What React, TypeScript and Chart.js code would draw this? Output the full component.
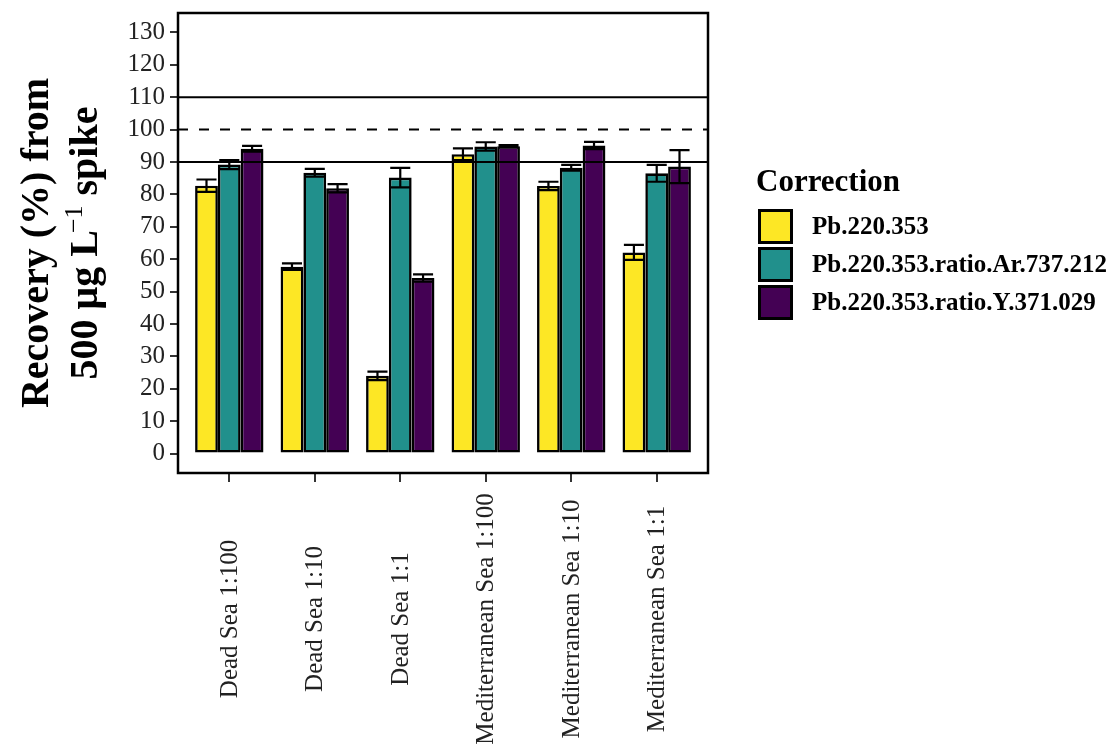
import React, { useEffect, useRef } from "react";
import { Chart, registerables } from "chart.js";

Chart.register(...registerables);

// Sample / dilution groups on the x axis
const categories = [
  "Dead Sea 1:100",
  "Dead Sea 1:10",
  "Dead Sea 1:1",
  "Mediterranean Sea 1:100",
  "Mediterranean Sea 1:10",
  "Mediterranean Sea 1:1",
];

// Correction methods (legend entries)
const seriesNames = [
  "Pb.220.353",
  "Pb.220.353.ratio.Ar.737.212",
  "Pb.220.353.ratio.Y.371.029",
];
const seriesColors = ["#FDE725", "#21908C", "#440154"];

// Mean recovery (%) and standard deviation for each correction
const pbValues = [82.7, 57.7, 24.0, 92.4, 82.6, 62.1];
const pbErrors = [1.9, 1.0, 1.3, 1.8, 1.3, 2.3];
const arValues = [89.2, 86.7, 85.2, 94.8, 88.2, 86.5];
const arErrors = [1.4, 1.2, 3.0, 1.3, 0.9, 2.6];
const yValues = [94.1, 81.9, 54.2, 94.9, 95.1, 88.6];
const yErrors = [0.9, 1.3, 1.1, 0.3, 1.1, 5.1];

const seriesValues = [pbValues, arValues, yValues];
const seriesErrors = [pbErrors, arErrors, yErrors];

// Y axis tick labels and acceptance limits
const yTicks = [0, 10, 20, 30, 40, 50, 60, 70, 80, 90, 100, 110, 120, 130];
const solidLimits = [90, 110];
const dashedTarget = [100];

const W = 1119;
const H = 746;
const SERIF = '"Liberation Serif", "DejaVu Serif", "Times New Roman", serif';

const overlayPlugin = {
  id: "recoveryOverlay",
  afterDatasetsDraw(chart: any) {
    const { ctx, chartArea: a, scales } = chart;
    const y = scales.y;
    ctx.save();
    ctx.strokeStyle = "#000";
    ctx.lineWidth = 2;

    // acceptance limits and target line
    ctx.setLineDash([]);
    for (const v of solidLimits) {
      const py = y.getPixelForValue(v);
      ctx.beginPath();
      ctx.moveTo(a.left, py);
      ctx.lineTo(a.right, py);
      ctx.stroke();
    }
    ctx.setLineDash([10, 11]);
    for (const v of dashedTarget) {
      const py = y.getPixelForValue(v);
      ctx.beginPath();
      ctx.moveTo(a.left, py);
      ctx.lineTo(a.right, py);
      ctx.stroke();
    }
    ctx.setLineDash([]);

    // error bars (mean ± sd)
    ctx.lineWidth = 2.2;
    chart.data.datasets.forEach((_ds: any, di: number) => {
      const meta = chart.getDatasetMeta(di);
      meta.data.forEach((el: any, i: number) => {
        const { x: bx, width } = el.getProps(["x", "width"], true);
        const v = seriesValues[di][i];
        const e = seriesErrors[di][i];
        const yt = y.getPixelForValue(v + e);
        const yb = y.getPixelForValue(v - e);
        const h = width * 0.44;
        ctx.beginPath();
        ctx.moveTo(bx, yt);
        ctx.lineTo(bx, yb);
        ctx.moveTo(bx - h, yt);
        ctx.lineTo(bx + h, yt);
        ctx.moveTo(bx - h, yb);
        ctx.lineTo(bx + h, yb);
        ctx.stroke();
      });
    });

    // panel border
    ctx.lineWidth = 2.5;
    ctx.strokeRect(a.left, a.top, a.right - a.left, a.bottom - a.top);
    ctx.restore();
  },
  afterDraw(chart: any) {
    const { ctx, chartArea: a, scales } = chart;
    const x = scales.x;

    // rotated category labels, centred in the axis band
    ctx.save();
    ctx.fillStyle = "#222";
    ctx.font = `25px ${SERIF}`;
    ctx.textAlign = "center";
    ctx.textBaseline = "middle";
    categories.forEach((label, i) => {
      const px = x.getPixelForValue(i);
      ctx.save();
      ctx.translate(px + 1, 619);
      ctx.rotate(-Math.PI / 2);
      ctx.fillText(label, 0, 0);
      ctx.restore();
    });
    ctx.restore();

    // y axis title (two lines, with superscript)
    const cy = (a.top + a.bottom) / 2;
    const big = `bold 40px ${SERIF}`;
    const small = `26px ${SERIF}`;
    ctx.save();
    ctx.fillStyle = "#000";
    ctx.textBaseline = "alphabetic";
    ctx.font = big;
    ctx.save();
    ctx.translate(48, cy);
    ctx.rotate(-Math.PI / 2);
    ctx.textAlign = "center";
    ctx.fillText("Recovery (%) from", 0, 0);
    ctx.restore();

    ctx.save();
    ctx.translate(97, cy);
    ctx.rotate(-Math.PI / 2);
    ctx.textAlign = "left";
    const p1 = "500 \u03bcg L";
    const sup = "\u22121";
    const p3 = " spike";
    ctx.font = big;
    const w1 = ctx.measureText(p1).width;
    const w3 = ctx.measureText(p3).width;
    ctx.font = small;
    const w2 = ctx.measureText(sup).width;
    let sx = -(w1 + w2 + w3 - 3) / 2;
    ctx.font = big;
    ctx.fillText(p1, sx, 0);
    sx += w1 - 3;
    ctx.font = small;
    ctx.fillText(sup, sx, -15);
    sx += w2;
    ctx.font = big;
    ctx.fillText(p3, sx, 0);
    ctx.restore();
    ctx.restore();

    // legend
    ctx.save();
    ctx.fillStyle = "#000";
    ctx.font = `bold 31px ${SERIF}`;
    ctx.textAlign = "left";
    ctx.textBaseline = "alphabetic";
    ctx.fillText("Correction", 756, 191);
    const box = 35;
    seriesNames.forEach((name, i) => {
      const top = 209 + i * 38;
      ctx.fillStyle = seriesColors[i];
      ctx.fillRect(758, top, box, box);
      ctx.strokeStyle = "#000";
      ctx.lineWidth = 3;
      ctx.strokeRect(758 + 1.5, top + 1.5, box - 3, box - 3);
      ctx.fillStyle = "#000";
      ctx.font = `bold 25px ${SERIF}`;
      ctx.textBaseline = "middle";
      ctx.fillText(name, 812, top + box / 2 + 1);
    });
    ctx.restore();
  },
};

export default function App() {
  const canvasRef = useRef<HTMLCanvasElement | null>(null);

  useEffect(() => {
    const canvas = canvasRef.current;
    if (!canvas) return;

    const datasets = seriesNames.map((name, di) => ({
      label: name,
      data: seriesValues[di].map((v, i) => ({ x: i, y: v })),
      backgroundColor: seriesColors[di],
      borderColor: "#000",
      borderWidth: 2.6,
      borderSkipped: false as const,
      categoryPercentage: 0.8,
      barPercentage: 1.0,
    }));

    const chart = new Chart(canvas, {
      type: "bar",
      data: { datasets },
      plugins: [overlayPlugin],
      options: {
        animation: false,
        responsive: false,
        events: [],
        layout: { padding: { left: 0, right: W - 708, top: 13, bottom: 0 } },
        plugins: {
          legend: { display: false },
          tooltip: { enabled: false },
        },
        scales: {
          x: {
            type: "linear",
            min: -0.6,
            max: 5.6,
            offset: false,
            afterBuildTicks: (s: any) => {
              s.ticks = categories.map((_c, i) => ({ value: i }));
            },
            afterFit: (s: any) => {
              s.height = H - 473;
              s.paddingLeft = 0;
              s.paddingRight = 0;
            },
            ticks: { display: false },
            grid: {
              offset: false,
              drawOnChartArea: false,
              drawTicks: true,
              tickLength: 9,
              color: "#333",
              lineWidth: 2,
            },
            border: { display: false },
          },
          y: {
            type: "linear",
            min: -6,
            max: 136,
            afterBuildTicks: (s: any) => {
              s.ticks = yTicks.map((v) => ({ value: v }));
            },
            afterFit: (s: any) => {
              s.width = 178;
              s.paddingTop = 0;
              s.paddingBottom = 0;
            },
            ticks: {
              color: "#222",
              font: { family: SERIF, size: 25 },
              padding: 5,
            },
            grid: {
              offset: false,
              drawOnChartArea: false,
              drawTicks: true,
              tickLength: 8,
              color: "#333",
              lineWidth: 2,
            },
            border: { display: false },
          },
        },
      },
    } as any);

    return () => chart.destroy();
  }, []);

  return (
    <div
      style={{
        position: "fixed",
        left: 0,
        top: 0,
        width: W,
        height: H,
        background: "#fff",
      }}
    >
      <canvas
        ref={canvasRef}
        width={W}
        height={H}
        style={{ display: "block", width: W, height: H }}
      />
    </div>
  );
}
